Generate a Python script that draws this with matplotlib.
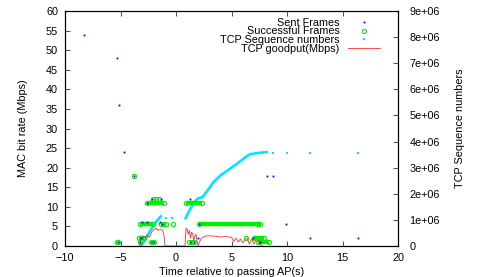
import numpy as np
import matplotlib
matplotlib.use("Agg")
import matplotlib.pyplot as plt
from matplotlib.ticker import FuncFormatter

plt.rcParams['font.family'] = ['Liberation Sans', 'DejaVu Sans']
fs = 7.8
plt.rcParams['font.size'] = fs

# Sent frames (MAC bit rate in Mbps)
sent_x = [-8.3, -5.3, -5.1, -4.7, -3.8, -5.25, -3.2, -3.25, -3.1, -2.6, -2.6, -2.2, -1.4,
          -2.25, -2.0, -1.45, -1.3, 1.3, 1.25, 1.6, 2.0, 2.1, 6.9, 7.6, 8.2, 8.7, 9.9, 12.1, 16.4]
sent_y = [54, 48, 36, 24, 18, 1, 2, 1, 6, 6, 11, 12, 12,
          1, 1, 6, 5.5, 12, 1, 1, 2, 5.5, 2, 1, 18, 18, 5.5, 2, 2]

# Successful frames: isolated ones
succ_x = [-5.3, -5.2, -3.8, -3.25, -2.25, -2.0, -2.1, -1.8, -1.5, -1.35, -1.15, -0.93, -0.3,
          1.2, 1.4, 1.6, 6.3, 7.4]
succ_y = [1, 1, 18, 1, 1, 1, 12, 12, 12, 5.5, 5.5, 5.5, 5.5,
          1, 1, 1, 2, 5.5]
# Successful frames: dense runs (start, end, rate)
run_start = [-3.3, -2.64, 0.9, -3.24, 2.07, 7.0, 7.4]
run_end = [-2.85, -1.08, 2.3, -2.05, 7.57, 7.9, 8.4]
run_rate = [2, 11, 11, 5.5, 5.5, 2, 1]

# TCP sequence numbers
seq1_t = [-3.15, -2.8, -2.5, -2.2, -1.9, -1.6, -1.35]
seq1_v = [0.0, 0.22e6, 0.45e6, 0.67e6, 0.87e6, 1.02e6, 1.14e6]
seq2_t = [0.85, 1.1, 1.4, 1.7, 1.9, 2.2, 2.4, 2.8, 3.4, 4.0, 4.9, 5.9, 6.4, 6.7, 7.5, 8.2]
seq2_v = [1.05e6, 1.27e6, 1.5e6, 1.7e6, 1.8e6, 1.85e6, 1.88e6, 2.1e6, 2.46e6, 2.7e6,
          2.97e6, 3.28e6, 3.45e6, 3.52e6, 3.57e6, 3.6e6]
seq_pts_t = [-0.93, -0.33, 8.7, 10.0, 12.1, 16.4]
seq_pts_v = [1.07e6, 1.07e6, 3.57e6, 3.57e6, 3.57e6, 3.57e6]

# TCP goodput (Mbps)
gp_t = [-3.3, -3.2, -3.0, -2.8, -2.6, -2.4, -2.2, -2.0, -1.8, -1.6, -1.4, -1.2, -1.05, -1.0,
        0.8, 0.9, 1.0, 1.1, 1.2, 1.3, 1.4, 1.5, 1.6, 1.7, 1.8, 1.9, 2.0, 2.1, 2.3, 2.6, 3.0,
        3.5, 4.0, 4.5, 5.0, 5.2, 5.4, 5.6, 5.8, 6.0, 6.2, 6.4, 6.6, 6.8, 7.0, 7.2, 7.4, 7.6, 7.8]
gp_v = [0, 1.5, 2.5, 2.0, 2.8, 2.2, 3.5, 4.2, 4.5, 4.0, 4.3, 4.0, 2.0, 0,
        0, 4.6, 4.2, 3.0, 4.0, 2.0, 3.5, 3.2, 1.5, 2.5, 3.0, 1.0, 0, 1.0, 2.0, 2.5, 2.6,
        2.5, 2.3, 2.4, 2.2, 1.2, 2.0, 1.0, 1.8, 0.8, 1.5, 2.0, 0.5, 1.8, 0.5, 1.2, 1.5, 0.3, 0]

fig = plt.figure(figsize=(4.85, 2.77), dpi=100)
ax = fig.add_axes([0.134, 0.112, 0.687, 0.848])
ax2 = ax.twinx()

green = '#00ee00'
cyan = '#00e5ff'

# dense runs of successful frames
ax.hlines(run_rate, run_start, run_end, colors=green, linewidth=3.2, zorder=3)
ax.plot(run_start + run_end, run_rate + run_rate, 'o', mfc='none', mec=green,
        ms=3.0, mew=0.8, zorder=3)
h_succ, = ax.plot(succ_x, succ_y, 'o', mfc='none', mec=green, ms=3.0, mew=0.8,
                  zorder=3, label='Successful Frames')
h_sent, = ax.plot(sent_x, sent_y, 's', color='#0000ff', ms=1.3, mew=0, zorder=5,
                  label='Sent Frames')
h_gp, = ax.plot(gp_t, gp_v, '-', color='#ff3030', lw=0.6, zorder=4,
                label='TCP goodput(Mbps)')

ax2.plot(seq1_t, seq1_v, '-', color=cyan, lw=1.9, solid_capstyle='round', zorder=2)
ax2.plot(seq2_t, seq2_v, '-', color=cyan, lw=1.9, solid_capstyle='round', zorder=2)
h_seq, = ax2.plot(seq_pts_t, seq_pts_v, 's', color=cyan, ms=1.8, mew=0,
                  label='TCP Sequence numbers')

ax.set_xlim(-10, 20)
ax.set_ylim(0, 60)
ax2.set_ylim(0, 9e6)
ax.set_xticks(np.arange(-10, 21, 5))
ax.set_yticks(np.arange(0, 61, 5))
ax2.set_yticks(np.arange(0, 9e6 + 1, 1e6))
ax2.yaxis.set_major_formatter(FuncFormatter(lambda v, p: '%g' % v))

ax.tick_params(axis='y', direction='in', length=3.5, width=0.8, color='#555555',
               labelsize=fs, pad=5)
ax.tick_params(axis='x', direction='in', length=3.5, width=0.8, color='#555555',
               top=True, labelsize=fs, pad=5)
ax2.tick_params(direction='in', length=3.5, width=0.8, color='#555555',
                labelsize=fs, pad=8)
for a in (ax, ax2):
    for s in a.spines.values():
        s.set_linewidth(0.8)

ax.set_xlabel('Time relative to passing AP(s)', fontsize=fs, labelpad=3)
ax.set_ylabel('MAC bit rate (Mbps)', fontsize=fs, labelpad=13)
ax2.set_ylabel('TCP Sequence numbers', fontsize=fs, labelpad=11)

ax2.set_zorder(0)
ax.set_zorder(1)
ax.patch.set_visible(False)

leg = ax.legend([h_sent, h_succ, h_seq, h_gp],
                ['Sent Frames', 'Successful Frames', 'TCP Sequence numbers', 'TCP goodput(Mbps)'],
                loc='upper right', bbox_to_anchor=(0.962, 0.995), frameon=False,
                markerfirst=False, fontsize=fs, labelspacing=-0.12, borderpad=0,
                handlelength=3.0, handletextpad=0.75, markerscale=1.0,
                handleheight=0.6)
vp = leg._legend_box._children[-1]._children[0]
vp.align = 'right'

fig.savefig('out.png', dpi=100)
